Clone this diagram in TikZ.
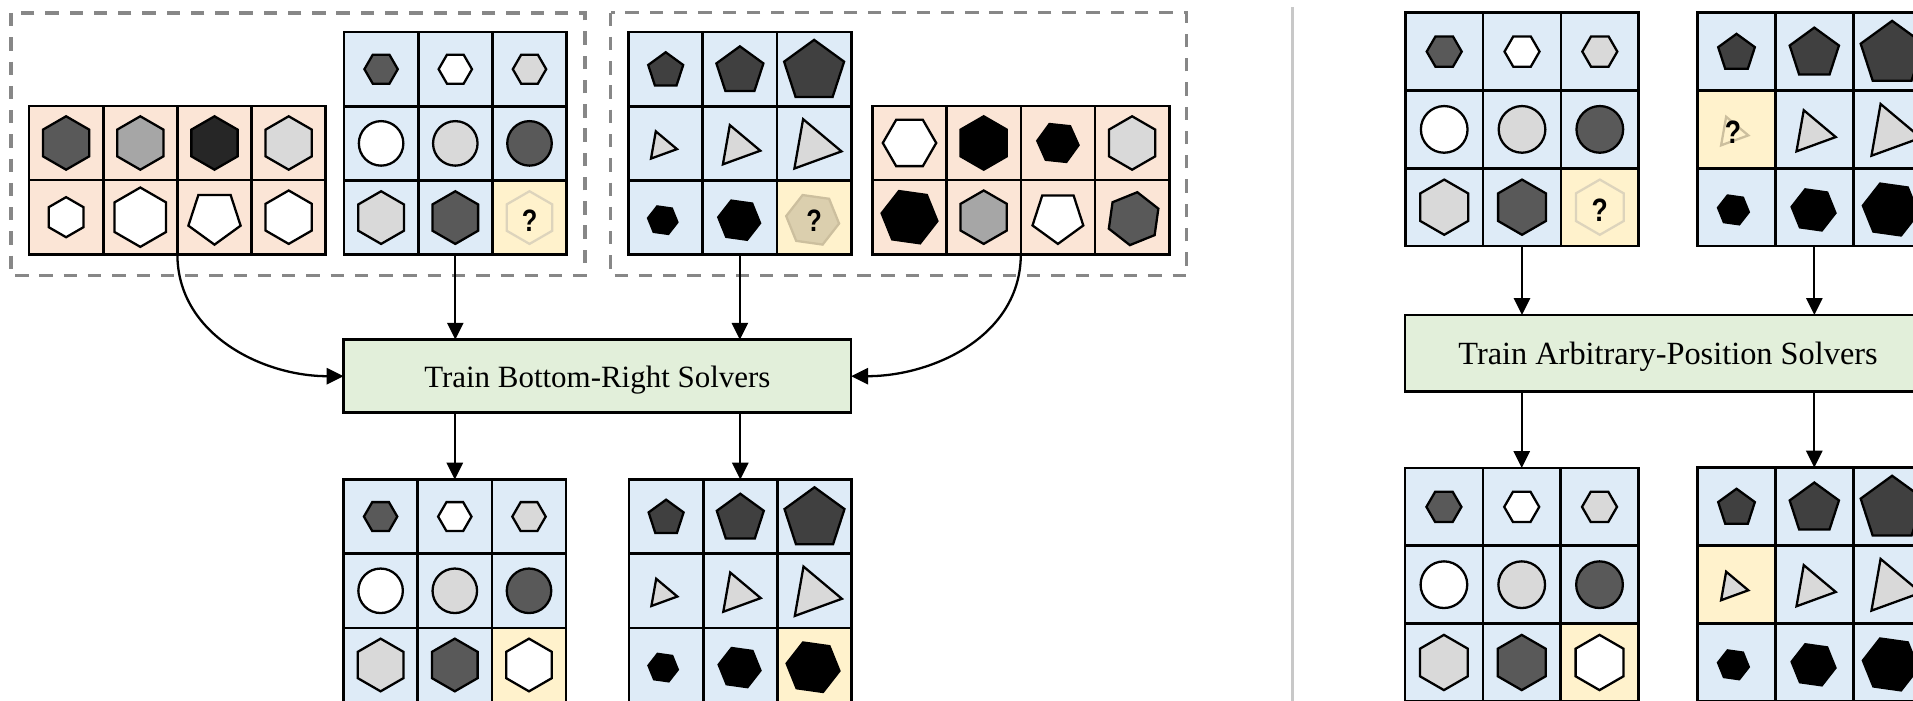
\documentclass[tikz,border=0pt]{standalone}
\usepackage{graphicx}
\usepackage{fontspec}
\setmainfont{Liberation Serif}
\newfontfamily\qfont{Liberation Sans}
\usetikzlibrary{arrows.meta}

\definecolor{cOr}{HTML}{FBE5D6}
\definecolor{cBl}{HTML}{DEEBF7}
\definecolor{cYe}{HTML}{FFF2CC}
\definecolor{cGr}{HTML}{E2EFDA}
\definecolor{cGtwo}{HTML}{262626}
\definecolor{cGfour}{HTML}{404040}
\definecolor{cGfive}{HTML}{595959}
\definecolor{cGa}{HTML}{A6A6A6}
\definecolor{cGd}{HTML}{D9D9D9}
\definecolor{cDash}{HTML}{878787}
\definecolor{cSep}{HTML}{C8C8C8}
\definecolor{cFaint}{HTML}{DDD4BC}
\definecolor{cTanF}{HTML}{DBCFAE}
\definecolor{cTanD}{HTML}{CCBF9E}

\def\qsz{8.8pt}

\tikzset{
  gl/.style={draw=black, line width=0.75pt},
  shp/.style={draw=black, line width=0.65pt, line join=miter},
  arr/.style={draw=black, line width=0.65pt, -{Triangle[length=4.8pt,width=4.6pt]}},
  gbox/.style={draw=black, line width=0.75pt, fill=cGr, inner sep=0pt, outer sep=0pt, text=black, text height=0.7em, text depth=0.04em},
  gridbox/.style={inner sep=0pt, outer sep=0pt, anchor=north west},
  dbox/.style={draw=cDash, line width=0.9pt, dash pattern=on 3.8pt off 3.1pt},
  qnode/.style={inner sep=0pt, outer sep=0pt, font=\qfont\bfseries\fontsize{\qsz}{\qsz}\selectfont},
}

% regular polygon: sides, cx, cy, radius, start angle, style
\newcommand\rpoly[6]{\pgfmathtruncatemacro\npm{#1-1}%
  \begin{scope}[shift={(#2,#3)}]\draw[shp,#6] (#5:#4) \foreach \k in {1,...,\npm}{ -- ({#5+360/#1*\k}:#4)} -- cycle;\end{scope}}
% cell scope: X0, Y0, c, col, row, content
\newcommand\mkcell[6]{\begin{scope}[shift={({#1+(#4+0.5)*#3},{-(#2+(#5+0.5)*#3)})},scale=#3]#6\end{scope}}
\newcommand\Cc[3]{\mkcell{\GX}{\GY}{\GC}{#1}{#2}{#3}}
\newcommand\bg[1]{\fill[#1] (-0.5,-0.5) rectangle (0.5,0.5);}
\newcommand\qm[2]{\node[qnode] at (#1,#2) {\scalebox{0.82}[1]{?}};}
\newcommand\gridlines[5]{%
  \draw[gl] (#1,-#2) rectangle ({#1+#4*#3},{-(#2+#5*#3)});%
  \pgfmathtruncatemacro\gcm{#4-1}\pgfmathtruncatemacro\grm{#5-1}%
  \foreach \q in {1,...,\gcm}{\draw[gl] ({#1+\q*#3},-#2) -- ({#1+\q*#3},{-(#2+#5*#3)});}%
  \foreach \q in {1,...,\grm}{\draw[gl] (#1,{-(#2+\q*#3)}) -- ({#1+#4*#3},{-(#2+\q*#3)});}}
\newcommand\gridnode[6]{\node[gridbox,minimum width={#5*#4*0.01cm},minimum height={#6*#4*0.01cm}] (#1) at (#2,-#3) {};}

% cell variants
\newcommand\triA[1]{\rpoly{3}{-0.06}{-0.04}{0.215}{-10}{#1}}
\newcommand\TriB{\bg{cBl}\triA{fill=cGd}}
\newcommand\TriY{\bg{cYe}\triA{fill=cGd}}
\newcommand\TriQ{\bg{cYe}\triA{draw=cTanD,fill=none}\qm{-0.045}{-0.04}}
\newcommand\HexB{\bg{cBl}\rpoly{6}{-0.02}{-0.03}{0.36}{-8}{fill=black}}
\newcommand\HexY{\bg{cYe}\rpoly{6}{-0.02}{-0.03}{0.36}{-8}{fill=black}}
\newcommand\HexQ{\bg{cYe}\rpoly{6}{-0.02}{-0.03}{0.36}{-8}{draw=cTanD,fill=cTanF}\qm{0}{-0.045}}
\newcommand\PhexQ{\bg{cYe}\rpoly{6}{0}{0}{0.355}{90}{draw=cFaint,fill=none}\qm{0}{-0.045}}
\newcommand\PhexA{\bg{cYe}\rpoly{6}{0}{0}{0.355}{90}{fill=white}}

% hexagon / circle grid: name X0 Y0 c lastcell
\newcommand\hexcirc[5]{\def\GX{#2}\def\GY{#3}\def\GC{#4}%
  \Cc{0}{0}{\bg{cBl}\rpoly{6}{0}{0}{0.225}{0}{fill=cGfive}}%
  \Cc{1}{0}{\bg{cBl}\rpoly{6}{0}{0}{0.225}{0}{fill=white}}%
  \Cc{2}{0}{\bg{cBl}\rpoly{6}{0}{0}{0.225}{0}{fill=cGd}}%
  \Cc{0}{1}{\bg{cBl}\draw[shp,fill=white] (0,0) circle (0.30);}%
  \Cc{1}{1}{\bg{cBl}\draw[shp,fill=cGd] (0,0) circle (0.30);}%
  \Cc{2}{1}{\bg{cBl}\draw[shp,fill=cGfive] (0,0) circle (0.30);}%
  \Cc{0}{2}{\bg{cBl}\rpoly{6}{0}{0}{0.355}{90}{fill=cGd}}%
  \Cc{1}{2}{\bg{cBl}\rpoly{6}{0}{0}{0.355}{90}{fill=cGfive}}%
  \Cc{2}{2}{#5}%
  \gridlines{#2}{#3}{#4}{3}{3}%
  \gridnode{#1}{#2}{#3}{#4}{3}{3}}

% pentagon / triangle / hexagon grid: name X0 Y0 c cell01 cell22
\newcommand\penttri[6]{\def\GX{#2}\def\GY{#3}\def\GC{#4}%
  \Cc{0}{0}{\bg{cBl}\rpoly{5}{0}{-0.02}{0.248}{90}{fill=cGfour}}%
  \Cc{1}{0}{\bg{cBl}\rpoly{5}{0}{-0.025}{0.333}{90}{fill=cGfour}}%
  \Cc{2}{0}{\bg{cBl}\rpoly{5}{0}{-0.03}{0.425}{90}{fill=cGfour}}%
  \Cc{0}{1}{#5}%
  \Cc{1}{1}{\bg{cBl}\rpoly{3}{-0.03}{-0.045}{0.31}{-10}{fill=cGd}}%
  \Cc{2}{1}{\bg{cBl}\rpoly{3}{-0.015}{-0.04}{0.39}{-10}{fill=cGd}}%
  \Cc{0}{2}{\bg{cBl}\rpoly{6}{-0.04}{-0.035}{0.2}{-8}{fill=black}}%
  \Cc{1}{2}{\bg{cBl}\rpoly{6}{-0.01}{-0.035}{0.285}{-8}{fill=black}}%
  \Cc{2}{2}{#6}%
  \gridlines{#2}{#3}{#4}{3}{3}%
  \gridnode{#1}{#2}{#3}{#4}{3}{3}}

\begin{document}
\begin{tikzpicture}[x=0.01cm,y=0.01cm]
\useasboundingbox (0,0) rectangle (1913,-701);
\clip (0,0) rectangle (1913,-701);

% ---------------- left panel ----------------
\def\qsz{8.8pt}
\hexcirc{bA}{344}{32.1}{74.2}{\PhexQ}
\penttri{bB}{628.6}{32.1}{74.2}{\TriB}{\HexQ}
\hexcirc{bC}{343.5}{479.5}{74.2}{\PhexA}
\penttri{bD}{629}{479.5}{74.2}{\TriB}{\HexY}

% orange grid 1
\def\GX{29}\def\GY{105.9}\def\GC{74.2}
\Cc{0}{0}{\bg{cOr}\rpoly{6}{0}{0}{0.36}{90}{fill=cGfive}}
\Cc{1}{0}{\bg{cOr}\rpoly{6}{0}{0}{0.36}{90}{fill=cGa}}
\Cc{2}{0}{\bg{cOr}\rpoly{6}{0}{0}{0.36}{90}{fill=cGtwo}}
\Cc{3}{0}{\bg{cOr}\rpoly{6}{0}{0}{0.36}{90}{fill=cGd}}
\Cc{0}{1}{\bg{cOr}\rpoly{6}{0}{0}{0.27}{90}{fill=white}}
\Cc{1}{1}{\bg{cOr}\rpoly{6}{0}{0}{0.40}{90}{fill=white}}
\Cc{2}{1}{\bg{cOr}\rpoly{5}{0}{0}{0.37}{-90}{fill=white}}
\Cc{3}{1}{\bg{cOr}\rpoly{6}{0}{0}{0.36}{90}{fill=white}}
\gridlines{\GX}{\GY}{\GC}{4}{2}
\gridnode{oA}{\GX}{\GY}{\GC}{4}{2}

% orange grid 2
\def\GX{872.4}\def\GY{105.9}\def\GC{74.2}
\Cc{0}{0}{\bg{cOr}\rpoly{6}{0}{0}{0.36}{0}{fill=white}}
\Cc{1}{0}{\bg{cOr}\rpoly{6}{0}{0}{0.36}{90}{fill=black}}
\Cc{2}{0}{\bg{cOr}\rpoly{6}{0}{0}{0.28}{-6}{fill=black}}
\Cc{3}{0}{\bg{cOr}\rpoly{6}{0}{0}{0.36}{90}{fill=cGd}}
\Cc{0}{1}{\bg{cOr}\rpoly{6}{0}{0}{0.38}{-8}{fill=black}}
\Cc{1}{1}{\bg{cOr}\rpoly{6}{0}{0}{0.36}{90}{fill=cGa}}
\Cc{2}{1}{\bg{cOr}\rpoly{5}{0}{0}{0.36}{-90}{fill=white}}
\Cc{3}{1}{\bg{cOr}\rpoly{6}{0.02}{-0.02}{0.36}{82}{fill=cGfive}}
\gridlines{\GX}{\GY}{\GC}{4}{2}
\gridnode{oB}{\GX}{\GY}{\GC}{4}{2}

% dashed groups
\draw[dbox] (11,-13) rectangle (585,-275.7);
\draw[dbox] (610.6,-12.7) rectangle (1186.7,-275.7);

\node[gbox, minimum width=5.073cm, minimum height=0.73cm, font=\fontsize{8.8pt}{10pt}\selectfont] (trainL) at (597.35,-376.2) {Train Bottom-Right Solvers};

\draw[arr] (bA.south) -- (bA.south |- trainL.north);
\draw[arr] (bB.south) -- (bB.south |- trainL.north);
\draw[arr] (oA.south) to[out=-90,in=180] (trainL.west);
\draw[arr] (oB.south) to[out=-90,in=0] (trainL.east);
\draw[arr] (bC.north |- trainL.south) -- (bC.north);
\draw[arr] (bD.north |- trainL.south) -- (bD.north);

% separator
\draw[draw=cSep, line width=0.9pt] (1292.3,-7.3) -- (1292.3,-710);

% ---------------- right panel ----------------
\def\qsz{9.2pt}
\hexcirc{rA}{1405.3}{12.7}{77.8}{\PhexQ}
\penttri{rB}{1697.6}{12.7}{77.8}{\TriQ}{\HexB}
\hexcirc{rC}{1405}{468}{77.8}{\PhexA}
\penttri{rD}{1697.6}{467.6}{77.8}{\TriY}{\HexB}

\node[gbox, minimum width=5.255cm, minimum height=0.763cm, font=\fontsize{9.2pt}{11pt}\selectfont] (trainR) at (1668.05,-353.15) {Train Arbitrary-Position Solvers};

\draw[arr] (rA.south) -- (rA.south |- trainR.north);
\draw[arr] (rB.south) -- (rB.south |- trainR.north);
\draw[arr] (rC.north |- trainR.south) -- (rC.north);
\draw[arr] (rD.north |- trainR.south) -- (rD.north);
\end{tikzpicture}
\end{document}
